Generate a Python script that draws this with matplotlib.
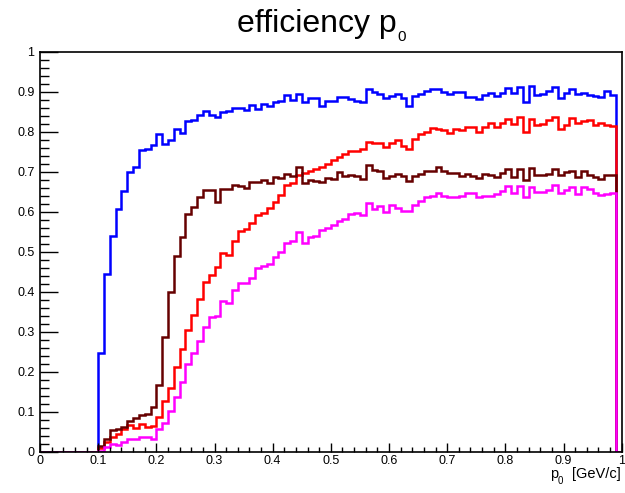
import matplotlib
matplotlib.use("Agg")
import matplotlib.pyplot as plt
from matplotlib.ticker import MultipleLocator
import numpy as np

# 100 bins of width 0.01 between 0 and 1
bin_edges = np.linspace(0.0, 1.0, 101)

eff_blue = [
    0, 0, 0, 0, 0, 0, 0, 0, 0, 0,
    0.247, 0.445, 0.540, 0.607, 0.652, 0.700, 0.712, 0.755, 0.758, 0.768,
    0.795, 0.770, 0.780, 0.807, 0.797, 0.827, 0.830, 0.842, 0.853, 0.842,
    0.837, 0.851, 0.852, 0.859, 0.859, 0.855, 0.868, 0.857, 0.871, 0.865,
    0.875, 0.878, 0.892, 0.880, 0.896, 0.874, 0.884, 0.884, 0.866, 0.877,
    0.877, 0.888, 0.888, 0.882, 0.878, 0.874, 0.907, 0.900, 0.894, 0.885,
    0.889, 0.896, 0.886, 0.864, 0.890, 0.895, 0.903, 0.908, 0.907, 0.901,
    0.895, 0.900, 0.900, 0.888, 0.888, 0.882, 0.892, 0.897, 0.890, 0.897,
    0.910, 0.897, 0.913, 0.875, 0.915, 0.892, 0.895, 0.903, 0.913, 0.885,
    0.897, 0.908, 0.895, 0.898, 0.893, 0.890, 0.887, 0.903, 0.893, 0,
]

eff_red = [
    0, 0, 0, 0, 0, 0, 0, 0, 0, 0,
    0.010, 0.025, 0.037, 0.045, 0.058, 0.068, 0.060, 0.070, 0.063, 0.064,
    0.087, 0.128, 0.160, 0.213, 0.257, 0.305, 0.343, 0.382, 0.425, 0.443,
    0.462, 0.497, 0.492, 0.528, 0.553, 0.558, 0.572, 0.592, 0.598, 0.610,
    0.625, 0.642, 0.667, 0.673, 0.692, 0.698, 0.703, 0.707, 0.712, 0.720,
    0.730, 0.737, 0.745, 0.753, 0.752, 0.757, 0.775, 0.773, 0.773, 0.762,
    0.773, 0.780, 0.765, 0.757, 0.783, 0.795, 0.800, 0.810, 0.808, 0.805,
    0.797, 0.808, 0.805, 0.812, 0.812, 0.800, 0.812, 0.822, 0.812, 0.822,
    0.833, 0.820, 0.837, 0.800, 0.832, 0.817, 0.820, 0.829, 0.838, 0.808,
    0.818, 0.835, 0.823, 0.827, 0.830, 0.817, 0.822, 0.817, 0.815, 0,
]

eff_brown = [
    0, 0, 0, 0, 0, 0, 0, 0, 0, 0,
    0.015, 0.032, 0.055, 0.057, 0.063, 0.077, 0.085, 0.092, 0.095, 0.112,
    0.168, 0.288, 0.400, 0.490, 0.538, 0.595, 0.613, 0.638, 0.655, 0.655,
    0.626, 0.658, 0.657, 0.667, 0.664, 0.661, 0.674, 0.675, 0.680, 0.672,
    0.687, 0.685, 0.696, 0.689, 0.712, 0.673, 0.679, 0.677, 0.675, 0.685,
    0.682, 0.701, 0.691, 0.693, 0.690, 0.682, 0.718, 0.706, 0.703, 0.686,
    0.691, 0.694, 0.690, 0.677, 0.689, 0.695, 0.703, 0.703, 0.713, 0.703,
    0.698, 0.697, 0.690, 0.695, 0.690, 0.685, 0.695, 0.692, 0.688, 0.698,
    0.708, 0.687, 0.708, 0.680, 0.710, 0.692, 0.692, 0.696, 0.707, 0.692,
    0.700, 0.703, 0.687, 0.703, 0.693, 0.687, 0.683, 0.692, 0.692, 0,
]

eff_magenta = [
    0, 0, 0, 0, 0, 0, 0, 0, 0, 0,
    0.002, 0.013, 0.020, 0.017, 0.025, 0.033, 0.032, 0.037, 0.037, 0.032,
    0.057, 0.073, 0.102, 0.138, 0.175, 0.220, 0.247, 0.278, 0.313, 0.338,
    0.340, 0.378, 0.372, 0.405, 0.423, 0.422, 0.434, 0.460, 0.466, 0.470,
    0.487, 0.500, 0.522, 0.528, 0.550, 0.522, 0.538, 0.540, 0.555, 0.560,
    0.567, 0.578, 0.583, 0.595, 0.598, 0.592, 0.623, 0.608, 0.615, 0.600,
    0.617, 0.610, 0.603, 0.602, 0.618, 0.628, 0.637, 0.640, 0.647, 0.640,
    0.637, 0.638, 0.640, 0.648, 0.648, 0.637, 0.640, 0.640, 0.645, 0.652,
    0.665, 0.647, 0.665, 0.637, 0.663, 0.650, 0.650, 0.655, 0.668, 0.648,
    0.655, 0.663, 0.645, 0.662, 0.658, 0.647, 0.642, 0.645, 0.647, 0,
]

tick_values = [0, 0.1, 0.2, 0.3, 0.4, 0.5, 0.6, 0.7, 0.8, 0.9, 1]
tick_labels = ["0", "0.1", "0.2", "0.3", "0.4", "0.5", "0.6", "0.7", "0.8", "0.9", "1"]

plt.rcParams["font.family"] = ["Liberation Sans", "DejaVu Sans"]

W, H = 625, 493
fig = plt.figure(figsize=(W / 100, H / 100), dpi=100)
ax = fig.add_axes([40 / W, 41 / H, 581.7 / W, 400 / H])

# draw order matches the reference: magenta ends up on top
series = [
    (eff_blue, "#0000ff"),
    (eff_red, "#ff0000"),
    (eff_brown, "#660000"),
    (eff_magenta, "#ff00ff"),
]
for vals, col in series:
    ax.stairs(vals, bin_edges, color=col, linewidth=1.8, baseline=None)

ax.set_xlim(0, 1)
ax.set_ylim(0, 1)

ax.set_xticks(tick_values)
ax.set_xticklabels(tick_labels)
ax.set_yticks(tick_values)
ax.set_yticklabels(tick_labels)
ax.xaxis.set_minor_locator(MultipleLocator(0.02))
ax.yaxis.set_minor_locator(MultipleLocator(0.02))

ax.tick_params(axis="x", which="major", direction="in", length=6.5, width=1, labelsize=9, pad=2.5)
ax.tick_params(axis="x", which="minor", direction="in", length=3.3, width=1)
ax.tick_params(axis="y", which="major", direction="in", length=13, width=1, labelsize=9, pad=4)
ax.tick_params(axis="y", which="minor", direction="in", length=6.5, width=1)
for sp in ax.spines.values():
    sp.set_linewidth(1.2)

# title with a ROOT-like lowered subscript
title = fig.text(237 / W, 1 - 32 / H, "efficiency p", ha="left", va="baseline", fontsize=23)
ax.annotate("0", xy=(1, 0), xycoords=title, xytext=(1, -2), textcoords="offset pixels",
            ha="left", va="baseline", fontsize=11, annotation_clip=False)

# x axis title, right aligned at the end of the axis
xunit = fig.text(621 / W, 1 - 478 / H, "[GeV/c]", ha="right", va="baseline", fontsize=10.5)
xsym = ax.annotate("p", xy=(0, 0), xycoords=xunit, xytext=(-14, 0), textcoords="offset pixels",
                   ha="right", va="bottom", fontsize=10.5, annotation_clip=False)
ax.annotate("0", xy=(1, 0), xycoords=xsym, xytext=(-1, 0), textcoords="offset pixels",
            ha="left", va="center", fontsize=7, annotation_clip=False)

fig.savefig("out.png", dpi=100)
